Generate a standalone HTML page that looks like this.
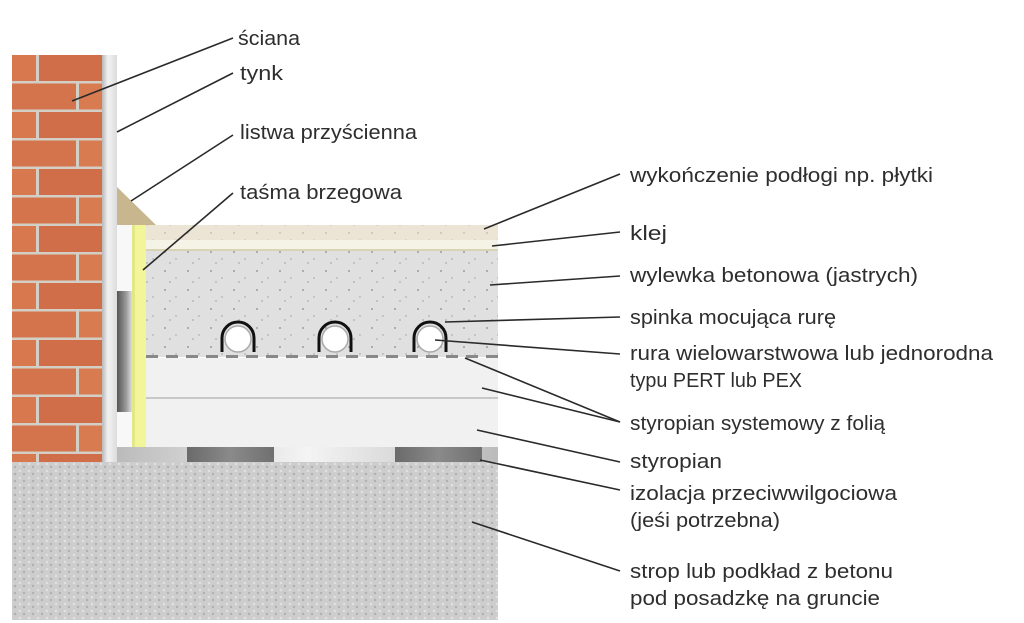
<!DOCTYPE html>
<html><head><meta charset="utf-8"><style>
html,body{margin:0;padding:0;background:#fff;}
svg{display:block;}
text{font-family:"Liberation Sans",sans-serif;font-size:20px;fill:#2e2e2e;}
</style></head><body>
<svg width="1024" height="623" viewBox="0 0 1024 623" xmlns="http://www.w3.org/2000/svg">
<defs>
<pattern id="brick" x="12" y="55" width="100" height="57" patternUnits="userSpaceOnUse">
<rect width="100" height="57" fill="#d3cfc6"/>
<rect x="0" y="0" width="24" height="26" fill="#d8784f"/>
<rect x="27" y="0" width="73" height="26" fill="#cf6e48"/>
<rect x="0" y="28.5" width="64" height="26" fill="#d4744c"/>
<rect x="67" y="28.5" width="33" height="26" fill="#d97b51"/>
</pattern>
<linearGradient id="plaster" x1="0" x2="1"><stop offset="0" stop-color="#b8b8b8"/><stop offset="0.4" stop-color="#f2f2f2"/><stop offset="1" stop-color="#dcdcdc"/></linearGradient>
<linearGradient id="darkv" x1="0" x2="1"><stop offset="0" stop-color="#555"/><stop offset="0.6" stop-color="#999"/><stop offset="1" stop-color="#ddd"/></linearGradient>
<linearGradient id="darkh" x1="0" x2="1"><stop offset="0" stop-color="#6a6a6a"/><stop offset="0.5" stop-color="#8a8a8a"/><stop offset="1" stop-color="#707070"/></linearGradient>
<linearGradient id="lighth" x1="0" x2="1"><stop offset="0" stop-color="#bbb"/><stop offset="0.5" stop-color="#f4f4f4"/><stop offset="1" stop-color="#bbb"/></linearGradient>
<pattern id="dots" width="23" height="19" patternUnits="userSpaceOnUse">
<circle cx="4" cy="5" r="0.9" fill="#888"/><circle cx="15" cy="12" r="0.7" fill="#999"/><circle cx="9" cy="16" r="0.6" fill="#777"/>
</pattern>
<pattern id="rough" width="9" height="7" patternUnits="userSpaceOnUse">
<rect width="9" height="7" fill="#cdcdcd"/><circle cx="2" cy="2" r="1.3" fill="#e0e0e0"/><circle cx="6" cy="5" r="1.2" fill="#b0b0b0"/>
</pattern>
</defs>
<rect x="12" y="55" width="90" height="408" fill="url(#brick)"/>
<rect x="102" y="55" width="15" height="408" fill="url(#plaster)"/>
<rect x="117" y="225" width="15" height="222" fill="#f8f8f8"/>
<rect x="117" y="291" width="15" height="121" fill="url(#darkv)"/>
<polygon points="117,187 117,225 156,225" fill="#c8b78e"/>
<rect x="132" y="225" width="14" height="222" fill="#f2f59a"/>
<rect x="132" y="225" width="3" height="222" fill="#e4e787"/>
<rect x="146" y="225" width="352" height="15" fill="#ece4d5"/>
<rect x="146" y="225" width="352" height="15" fill="url(#dots)" opacity="0.5"/>
<rect x="146" y="240" width="352" height="11" fill="#f5f3e6"/>
<rect x="146" y="249" width="352" height="2" fill="#d8d3b5"/>
<rect x="146" y="251" width="352" height="106" fill="#e0e0e0"/>
<rect x="146" y="251" width="352" height="106" fill="url(#dots)"/>
<line x1="146" y1="356.5" x2="498" y2="356.5" stroke="#888" stroke-width="3" stroke-dasharray="12 8"/>
<rect x="146" y="358" width="352" height="89" fill="#f1f1f1"/>
<rect x="146" y="397" width="352" height="2" fill="#c8c8c8"/>
<g>
<path d="M222,352 V338 A16,16 0 0 1 254,338 V352" fill="none" stroke="#111" stroke-width="3"/>
<circle cx="238" cy="339" r="13" fill="#fff" stroke="#aaa" stroke-width="1.5"/>
<path d="M319,352 V338 A16,16 0 0 1 351,338 V352" fill="none" stroke="#111" stroke-width="3"/>
<circle cx="335" cy="339" r="13" fill="#fff" stroke="#aaa" stroke-width="1.5"/>
<path d="M414,352 V338 A16,16 0 0 1 446,338 V352" fill="none" stroke="#111" stroke-width="3"/>
<circle cx="430" cy="339" r="13" fill="#fff" stroke="#aaa" stroke-width="1.5"/>
</g>
<rect x="117" y="447" width="381" height="15" fill="url(#lighth)"/>
<rect x="187" y="447" width="87" height="15" fill="url(#darkh)"/>
<rect x="395" y="447" width="87" height="15" fill="url(#darkh)"/>
<rect x="12" y="462" width="486" height="158" fill="url(#rough)"/>
<g stroke="#2a2a2a" stroke-width="1.6" fill="none">
<line x1="72" y1="101" x2="233" y2="38"/>
<line x1="117" y1="132" x2="233" y2="73"/>
<line x1="131" y1="201" x2="233" y2="135"/>
<line x1="143" y1="270" x2="233" y2="193"/>
<line x1="484" y1="229" x2="620" y2="174"/>
<line x1="492" y1="246" x2="620" y2="232"/>
<line x1="490" y1="285" x2="620" y2="276"/>
<line x1="445" y1="322" x2="620" y2="317"/>
<line x1="435" y1="340" x2="620" y2="354"/>
<line x1="465" y1="358" x2="620" y2="422"/>
<line x1="482" y1="388" x2="620" y2="422"/>
<line x1="477" y1="430" x2="620" y2="462"/>
<line x1="480" y1="460" x2="620" y2="490"/>
<line x1="472" y1="522" x2="620" y2="571"/>
</g>
<text x="238" y="45" textLength="62" lengthAdjust="spacingAndGlyphs">ściana</text>
<text x="240" y="80" textLength="43" lengthAdjust="spacingAndGlyphs">tynk</text>
<text x="240" y="139" textLength="177" lengthAdjust="spacingAndGlyphs">listwa przyścienna</text>
<text x="240" y="199" textLength="162" lengthAdjust="spacingAndGlyphs">taśma brzegowa</text>
<text x="630" y="182" textLength="303" lengthAdjust="spacingAndGlyphs">wykończenie podłogi np. płytki</text>
<text x="630" y="240" textLength="37" lengthAdjust="spacingAndGlyphs">klej</text>
<text x="630" y="282" textLength="288" lengthAdjust="spacingAndGlyphs">wylewka betonowa (jastrych)</text>
<text x="630" y="324" textLength="206" lengthAdjust="spacingAndGlyphs">spinka mocująca rurę</text>
<text x="630" y="360" textLength="363" lengthAdjust="spacingAndGlyphs">rura wielowarstwowa lub jednorodna</text>
<text x="630" y="387" textLength="172" lengthAdjust="spacingAndGlyphs">typu PERT lub PEX</text>
<text x="630" y="430" textLength="255" lengthAdjust="spacingAndGlyphs">styropian systemowy z folią</text>
<text x="630" y="468" textLength="92" lengthAdjust="spacingAndGlyphs">styropian</text>
<text x="630" y="500" textLength="267" lengthAdjust="spacingAndGlyphs">izolacja przeciwwilgociowa</text>
<text x="630" y="527" textLength="150" lengthAdjust="spacingAndGlyphs">(jeśi potrzebna)</text>
<text x="630" y="578" textLength="263" lengthAdjust="spacingAndGlyphs">strop lub podkład z betonu</text>
<text x="630" y="605" textLength="250" lengthAdjust="spacingAndGlyphs">pod posadzkę na gruncie</text>
</svg>
</body></html>
